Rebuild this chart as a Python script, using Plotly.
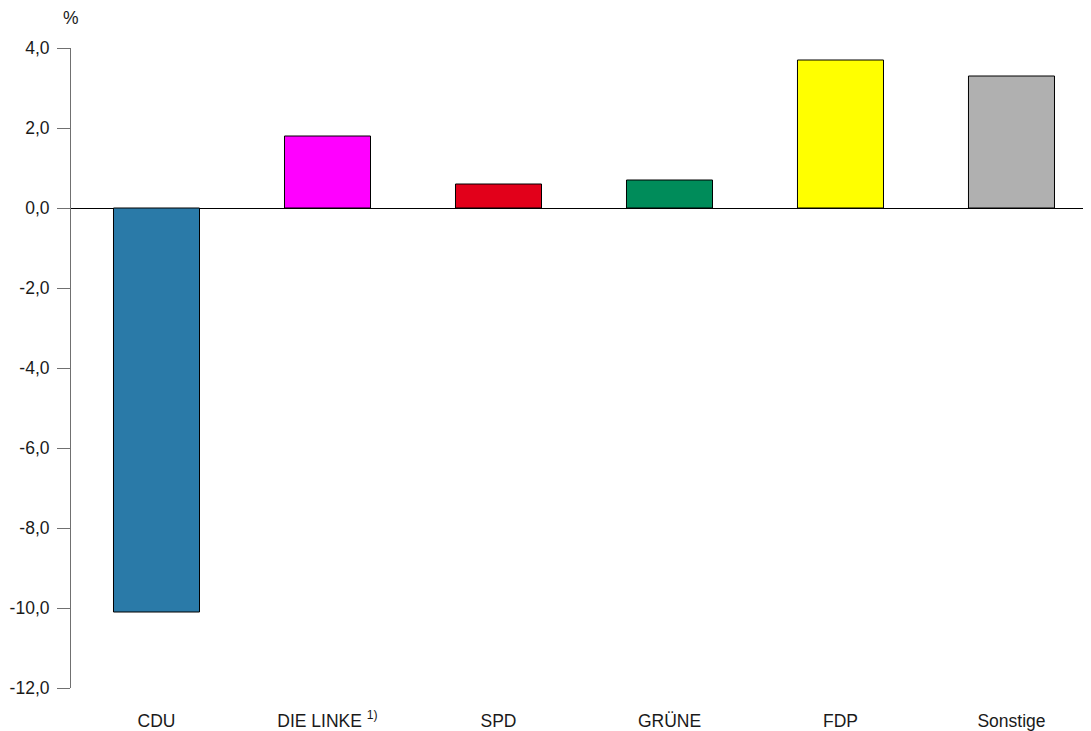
import plotly.graph_objects as go

parties = ["CDU", "DIE LINKE <sup>1)</sup>", "SPD", "GRÜNE", "FDP", "Sonstige"]
changes = [-10.1, 1.8, 0.6, 0.7, 3.7, 3.3]
colors = ["#2a7aa8", "#ff00ff", "#e2001a", "#008c5a", "#ffff00", "#b0b0b0"]
ytick_vals = [4, 2, 0, -2, -4, -6, -8, -10, -12]
ytick_text = ["4,0", "2,0", "0,0", "-2,0", "-4,0", "-6,0", "-8,0", "-10,0", "-12,0"]

FS = 17.5

fig = go.Figure(go.Bar(
    x=list(range(len(parties))), y=changes,
    marker=dict(color=colors, line=dict(color="#000000", width=1)),
    width=0.503,
))

fig.update_layout(
    width=1083, height=723,
    margin=dict(l=63, r=0, t=40, b=43),
    paper_bgcolor="white", plot_bgcolor="white",
    font=dict(family="Liberation Sans, Arial, sans-serif", size=FS, color="#1a1a1a"),
    showlegend=False,
    xaxis=dict(
        range=[-0.5, 5.465],
        tickmode="array", tickvals=list(range(len(parties))), ticktext=parties,
        showgrid=False, showline=False, zeroline=False, ticks="",
        ticklabelstandoff=20,
        tickfont=dict(size=FS),
    ),
    yaxis=dict(
        range=[-12, 4],
        tickmode="array", tickvals=ytick_vals, ticktext=ytick_text,
        showgrid=False, showline=True, linecolor="#707070", linewidth=1,
        ticks="outside", ticklen=13, tickcolor="#707070", tickwidth=1,
        zeroline=True, zerolinecolor="#000000", zerolinewidth=1,
        tickfont=dict(size=FS),
        ticklabelstandoff=4,
    ),
    annotations=[dict(
        text="%", x=0, y=1, xref="paper", yref="paper",
        xanchor="center", yanchor="middle", yshift=30, showarrow=False,
        font=dict(size=FS),
    )],
)

fig.write_html("out.html")
